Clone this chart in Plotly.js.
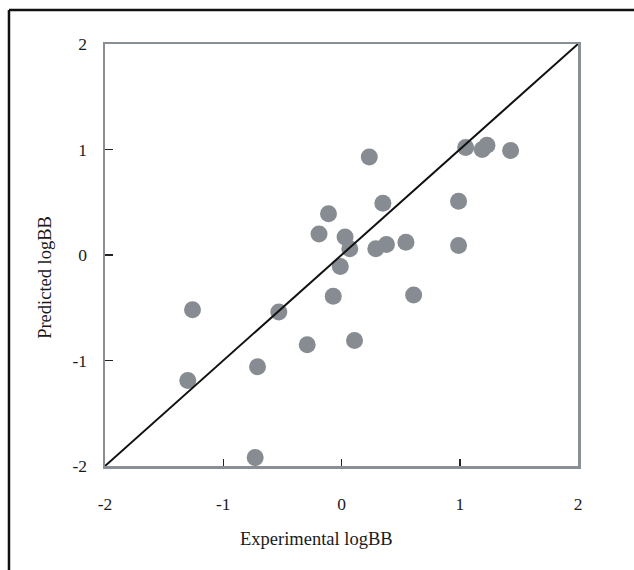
<!DOCTYPE html>
<html>
<head>
<meta charset="utf-8">
<script src="https://cdn.plot.ly/plotly-3.0.1.min.js"></script>
<style>
html,body{margin:0;padding:0;background:#fff;}
#chart{width:634px;height:570px;}
</style>
</head>
<body>
<div id="chart"></div>
<script>
const experimental = [-1.30, -1.26, -0.71, -0.73, -0.53, -0.29, -0.19, -0.11, -0.07, -0.01, 0.03, 0.07, 0.11, 0.235, 0.29, 0.35, 0.38, 0.545, 0.61, 0.99, 0.99, 1.05, 1.19, 1.23, 1.43];
const predicted    = [-1.19, -0.52, -1.06, -1.92, -0.54, -0.85, 0.20, 0.39, -0.39, -0.11, 0.17, 0.06, -0.81, 0.93, 0.06, 0.49, 0.10, 0.12, -0.38, 0.51, 0.09, 1.02, 1.00, 1.04, 0.99];
const identityX = [-2, 2];
const identityY = [-2, 2];
const tickValues = [-2, -1, 0, 1, 2];
const tickLabels = ['-2', '-1', '0', '1', '2'];
const xTitle = 'Experimental logBB';
const yTitle = 'Predicted logBB';

const family = '"Liberation Serif", "Times New Roman", serif';
const font = {family: family, size: 17.5, color: '#1a1a1a'};
const titleFont = {family: family, size: 18.5, color: '#1a1a1a'};
const axisGray = '#8a8f95';

const traces = [
  {x: experimental, y: predicted, mode: 'markers', type: 'scatter',
   marker: {size: 17, color: '#878c92', line: {width: 0}}, hoverinfo: 'x+y'},
  {x: identityX, y: identityY, mode: 'lines', type: 'scatter',
   line: {color: '#111', width: 2}, hoverinfo: 'skip'}
];

const layout = {
  width: 634, height: 570,
  margin: {l: 105, r: 56, t: 44, b: 104, pad: 0},
  paper_bgcolor: '#fff', plot_bgcolor: '#fff',
  showlegend: false,
  font: font,
  xaxis: {
    range: [-2, 2], tickmode: 'array', tickvals: tickValues, ticktext: tickLabels,
    ticks: 'inside', ticklen: 7, tickwidth: 1.5, tickcolor: '#222',
    showline: true, linecolor: axisGray, linewidth: 2.5, mirror: true,
    showgrid: false, zeroline: false, ticklabelstandoff: 20,
    tickfont: font, fixedrange: true
  },
  yaxis: {
    range: [-2, 2], tickmode: 'array', tickvals: tickValues, ticktext: tickLabels,
    ticks: 'inside', ticklen: 8, tickwidth: 1.5, tickcolor: '#222',
    showline: true, linecolor: axisGray, linewidth: 2.5, mirror: true,
    showgrid: false, zeroline: false, ticklabelstandoff: 12,
    tickfont: font, fixedrange: true
  },
  annotations: [
    {text: xTitle, xref: 'paper', yref: 'paper', x: 0.448, y: -0.173,
     xanchor: 'center', yanchor: 'middle', showarrow: false, font: titleFont},
    {text: yTitle, xref: 'paper', yref: 'paper', x: -0.127, y: 0.448, textangle: -90,
     xanchor: 'center', yanchor: 'middle', showarrow: false, font: titleFont}
  ],
  shapes: [
    {type: 'line', xref: 'paper', yref: 'paper', x0: -0.203, x1: 1.25, y0: 1.0806, y1: 1.0806,
     line: {color: '#111', width: 2.5}},
    {type: 'line', xref: 'paper', yref: 'paper', x0: -0.203, x1: -0.203, y0: -0.3, y1: 1.0806,
     line: {color: '#111', width: 2.5}}
  ]
};

Plotly.newPlot('chart', traces, layout, {displayModeBar: false, staticPlot: true});
</script>
</body>
</html>
